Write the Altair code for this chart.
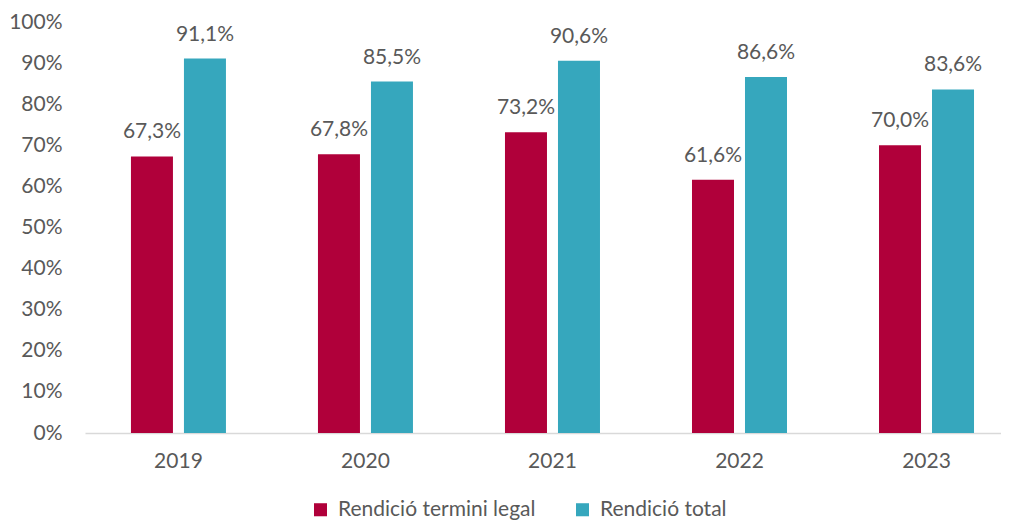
import altair as alt
import pandas as pd

years = ["2019", "2020", "2021", "2022", "2023"]
series = ["Rendició termini legal", "Rendició total"]
legal = [67.3, 67.8, 73.2, 61.6, 70.0]
total = [91.1, 85.5, 90.6, 86.6, 83.6]
colors = ["#B0003A", "#36A7BD"]

rows = []
for i, y in enumerate(years):
    for s, vals in zip(series, [legal, total]):
        v = vals[i]
        rows.append({"year": y, "series": s, "value": v,
                     "label": f"{v:.1f}".replace(".", ",") + "%"})
df = pd.DataFrame(rows)

FONT = "Lato"
TXT = "#595959"

base = alt.Chart(df).encode(
    x=alt.X("year:N", sort=years, title=None,
            scale=alt.Scale(paddingInner=0.492, paddingOuter=0.195, align=0.63),
            axis=alt.Axis(labelAngle=0, ticks=False, domainColor="#D9D9D9",
                          domainWidth=1.5, labelPadding=17, labelFontSize=21,
                          labelColor=TXT, labelFont=FONT)),
    xOffset=alt.XOffset("series:N", sort=series,
                        scale=alt.Scale(paddingInner=0.2075, paddingOuter=0)),
    y=alt.Y("value:Q", title=None,
            scale=alt.Scale(domain=[0, 100], nice=False),
            axis=alt.Axis(values=list(range(0, 101, 10)), labelExpr="datum.value + '%'",
                          grid=False, ticks=False, domain=False, labelPadding=23,
                          labelFontSize=21, labelColor=TXT, labelFont=FONT)),
)

bars = base.mark_bar().encode(
    color=alt.Color("series:N", sort=series,
                    scale=alt.Scale(domain=series, range=colors),
                    legend=alt.Legend(title=None, orient="none", direction="horizontal",
                                      legendX=225, legendY=477, symbolType="square",
                                      symbolSize=170, symbolStrokeWidth=0,
                                      labelFontSize=21, labelColor=TXT, labelFont=FONT,
                                      labelLimit=0, labelOffset=7, columnPadding=36,
                                      padding=0))
)

texts = base.mark_text(baseline="alphabetic", dy=-18, fontSize=21, font=FONT,
                       color=TXT).encode(text="label:N")

chart = (bars + texts).properties(
    width=916, height=411,
    autosize=alt.AutoSizeParams(type="none"),
    padding={"left": 77, "top": 14, "right": 0, "bottom": 89},
).configure_view(stroke=None)

chart.save("out.html", embed_options={"renderer": "svg", "actions": False})
